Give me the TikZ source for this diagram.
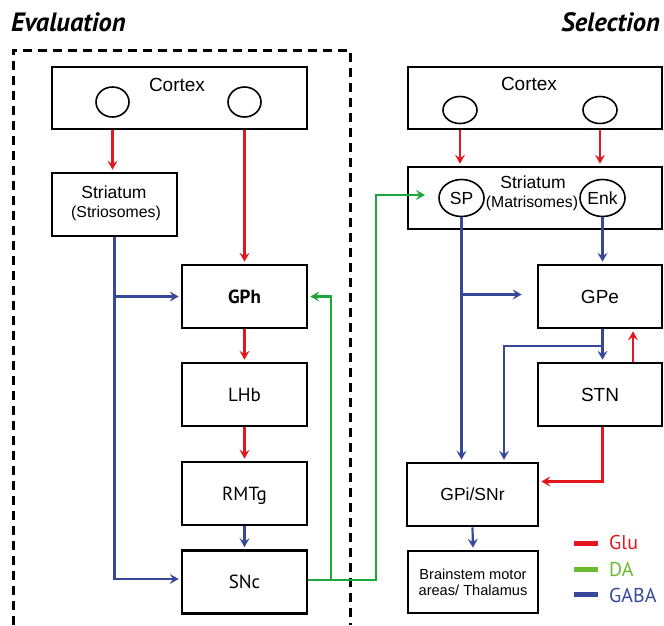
\documentclass[tikz,border=0pt]{standalone}
\usepackage{fontspec}
\setmainfont{Liberation Sans}
\newfontfamily\humsans{PT Sans}
\usetikzlibrary{arrows.meta,shapes.geometric}

\definecolor{glu}{RGB}{228,22,30}
\definecolor{da}{RGB}{30,165,60}
\definecolor{dalegend}{RGB}{110,185,50}
\definecolor{gaba}{RGB}{55,72,155}

\newcommand\fsCtx{\fontsize{19}{22}\selectfont}
\newcommand\fsStr{\fontsize{17.5}{20}\selectfont}
\newcommand\fsSub{\fontsize{15.8}{18}\selectfont}
\newcommand\fsSmall{\fontsize{14.6}{17}\selectfont}
\newcommand\fsHum{\humsans\fontsize{19}{22}\selectfont}
\newcommand\fsLeg{\humsans\fontsize{20}{22}\selectfont}
\newcommand\fsTitle{\humsans\bfseries\itshape\fontsize{26.5}{28}\selectfont}

\begin{document}
\begin{tikzpicture}[x=1pt,y=-1pt,
  box/.style={draw, line width=2.6pt, inner sep=0pt, text depth=0pt},
  cell/.style={box, minimum width=125pt, minimum height=63pt},
  wide/.style={box, minimum width=255pt, minimum height=62pt},
  cellbody/.style={ellipse, draw, line width=1.6pt, inner sep=0pt},
  txt/.style={inner sep=0pt, anchor=base},
  conn/.style={line width=2.2pt, shorten >=2pt,
    -{Stealth[length=9pt, width=10pt, inset=3.5pt]}},
  legline/.style={line width=5pt}]
\useasboundingbox (0,0) rectangle (664,625);

% ---------- titles ----------
\node[txt, anchor=base west, font=\fsTitle] (evaltitle) at (11,31) {Evaluation};
\node[txt, anchor=base east, font=\fsTitle] (seltitle) at (660,31) {Selection};

% ---------- dashed frame around the evaluation circuit ----------
\draw[line width=3pt, dash pattern=on 9pt off 6pt]
  (13,625) -- (13,50) -- (350,50) -- (350,625);

% ---------- evaluation circuit ----------
\node[wide] (lctx) at (179.5,98) {};
\node[txt, font=\fsCtx] (lctxt) at (177,91) {Cortex};
\node[cellbody, minimum width=33pt, minimum height=30pt] (lc1) at (112.5,102) {};
\node[cellbody, minimum width=33pt, minimum height=30pt] (lc2) at (244.5,102) {};

\node[box, minimum width=125pt, minimum height=63pt] (lstr) at (114.5,204.5) {};
\node[txt, font=\fsStr] (lstrt) at (114,198) {Striatum};
\node[txt, font=\fsSub] (lstrs) at (116,217) {(Striosomes)};

\node[cell, font=\fsHum\bfseries, text height=13pt] (gph) at (244.5,296.5) {GPh};
\node[cell, font=\fsHum, text height=13pt] (lhb) at (244.5,394.5) {LHb};
\node[cell, font=\fsHum, text height=13pt] (rmtg) at (244.5,493.5) {RMTg};
\node[cell, font=\fsHum, text height=13pt] (snc) at (244.5,582) {SNc};

% ---------- selection circuit ----------
\node[box, minimum width=254pt, minimum height=62pt] (rctx) at (535,98) {};
\node[txt, font=\fsCtx] (rctxt) at (529,90) {Cortex};
\node[cellbody, minimum width=34pt, minimum height=27pt] (rc1) at (460,110) {};
\node[cellbody, minimum width=34pt, minimum height=27pt] (rc2) at (600,110) {};

\node[box, minimum width=254pt, minimum height=62pt] (rstr) at (535,198) {};
\node[txt, font=\fsStr] (rstrt) at (533,188) {Striatum};
\node[txt, font=\fsSub] (rstrs) at (532,207) {(Matrisomes)};
\node[cellbody, minimum width=45pt, minimum height=37pt, font=\fsStr] (sp) at (461.5,198) {SP};
\node[cellbody, minimum width=45pt, minimum height=37pt, font=\fsStr] (enk) at (602.5,198) {Enk};

\node[box, minimum width=124pt, minimum height=63pt, font=\fsCtx, text height=13.5pt] (gpe) at (600,296.5) {GPe};
\node[box, minimum width=124pt, minimum height=63pt, font=\fsCtx, text height=13.5pt] (stn) at (600,394.5) {STN};
\node[box, minimum width=131pt, minimum height=63pt, font=\fsStr, text height=12.5pt] (gpi) at (472.5,494.5) {GPi/SNr};
\node[box, minimum width=130pt, minimum height=62pt, font=\fsSmall, align=center]
  (bst) at (473,582) {Brainstem motor\\[-1pt]areas/ Thalamus};

% ---------- connectors: evaluation ----------
\draw[glu, conn] (lc1 |- lctx.south) -- (lc1 |- lstr.north);
\draw[glu, conn] (lc2 |- lctx.south) -- (lc2 |- gph.north);
\draw[glu, conn] (gph.south) -- (lhb.north);
\draw[glu, conn] (lhb.south) -- (rmtg.north);
\draw[gaba, conn] (rmtg.south) -- (snc.north);
\draw[gaba, conn] (lstr.south) |- ([yshift=3pt]snc.west);
\draw[gaba, conn] (lstr.south |- gph.west) -- (gph.west);

% ---------- dopamine output of SNc ----------
\coordinate (dajog) at (331,0);
\coordinate (dax) at (376,0);
\coordinate (daend) at (427,195);
\draw[da, conn] ([yshift=2pt]snc.east) -| (dajog |- gph.east) -- (gph.east);
\draw[da, conn] ([yshift=2pt]snc.east) -| (dax |- daend) -- (daend);

% ---------- connectors: selection ----------
\draw[glu, conn] (rc1 |- rctx.south) -- (rc1 |- rstr.north);
\draw[glu, conn] (rc2 |- rctx.south) -- (rc2 |- rstr.north);
\draw[gaba, conn] (sp.south) -- (sp |- gpi.north);
\draw[gaba, conn] ([yshift=2pt]sp |- gpe.west) -- ([xshift=-13pt,yshift=2pt]gpe.west);
\draw[gaba, conn] (enk.south) -- (enk |- gpe.north);
\draw[gaba, conn] (enk |- gpe.south) -- (enk |- stn.north);
\coordinate (hop) at (504,346);
\draw[gaba, conn] (enk |- hop) -| (hop |- gpi.north);
\draw[glu, conn] ([xshift=33pt]stn.north) -- ([xshift=33pt]gpe.south);
\draw[glu, conn] (enk |- stn.south) |- ([yshift=13pt]gpi.east);
\draw[gaba, conn] (gpi.south) -- (bst.north);

% ---------- legend ----------
\draw[glu, legline] (574,543) -- (598,543);
\draw[dalegend, legline] (574,569) -- (598,569);
\draw[gaba, legline] (574,594) -- (598,594);
\node[txt, anchor=base west, font=\fsLeg, text=glu] (legglu) at (609,549) {Glu};
\node[txt, anchor=base west, font=\fsLeg, text=dalegend] (legda) at (609,576) {DA};
\node[txt, anchor=base west, font=\fsLeg, text=gaba] (leggaba) at (609,602) {GABA};
\end{tikzpicture}
\end{document}
